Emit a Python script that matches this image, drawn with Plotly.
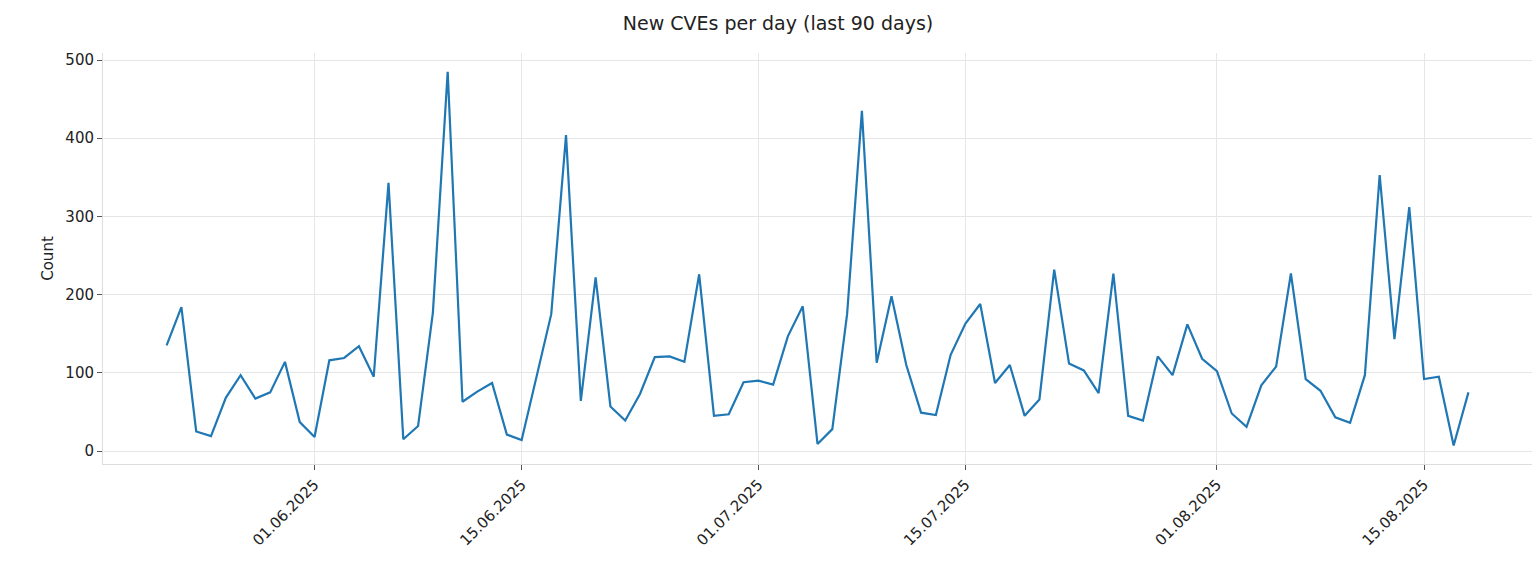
import pandas as pd
import plotly.graph_objects as go

start_date = "2025-05-22"
counts = [135,184,25,19,68,97,67,75,114,37,
          18,116,119,134,95,343,15,32,177,485,63,76,87,21,14,95,175,404,64,222,57,39,73,120,121,114,226,45,47,88,
          90,85,147,185,9,28,175,435,113,198,110,49,46,123,163,188,87,110,45,66,232,112,103,74,227,45,39,121,97,162,118,
          102,48,31,84,108,227,92,77,43,36,97,353,143,312,92,95,7,75]
dates = pd.date_range(start_date, periods=len(counts), freq="D")
tick_dates = ["2025-06-01","2025-06-15","2025-07-01","2025-07-15","2025-08-01","2025-08-15"]
tick_labels = ["01.06.2025","15.06.2025","01.07.2025","15.07.2025","01.08.2025","15.08.2025"]

fig = go.Figure(go.Scatter(x=dates, y=counts, mode="lines", line=dict(color="#1f77b4", width=2.2)))
fig.update_layout(
    width=1540, height=579, template="plotly_white",
    margin=dict(l=95, r=13, t=45, b=123, autoexpand=False),
    font=dict(family="DejaVu Sans", size=15, color="#222"),
    title=dict(text="New CVEs per day (last 90 days)", x=0.5, xanchor="center", y=0.985, yanchor="top", font=dict(size=19)),
    plot_bgcolor="white", paper_bgcolor="white", showlegend=False,
)
fig.update_xaxes(range=[pd.Timestamp("2025-05-22")-pd.Timedelta(hours=4.3*24), pd.Timestamp("2025-08-18")+pd.Timedelta(hours=4.5*24)],
                 tickvals=tick_dates, ticktext=tick_labels, tickangle=-45, automargin=False,
                 showgrid=True, gridcolor="#e6e6e6", showline=True, linecolor="#dddddd",
                 ticks="outside", ticklen=5, tickcolor="#555", zeroline=False)
fig.update_yaxes(range=[-16.6, 509], tickvals=[0,100,200,300,400,500], automargin=False,
                 title=dict(text="Count", standoff=8, font=dict(size=15)),
                 showgrid=True, gridcolor="#e6e6e6", showline=True, linecolor="#dddddd",
                 ticks="outside", ticklen=5, tickcolor="#555", zeroline=False)
fig.write_html("out.html")
